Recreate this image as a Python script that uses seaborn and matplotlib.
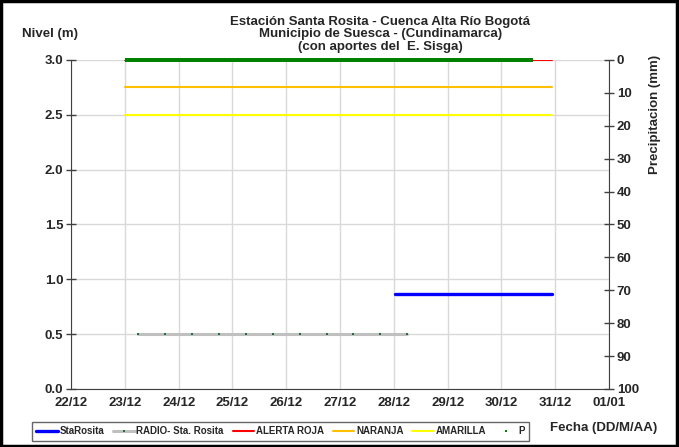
import matplotlib

matplotlib.use("Agg")
import matplotlib.dates as mdates
import matplotlib.pyplot as plt
import numpy as np
import pandas as pd
import seaborn as sns
from matplotlib.lines import Line2D
from matplotlib.patches import Rectangle

# --- data ---
alert_times = ["2011-12-23 00:00", "2011-12-30 22:30"]
alerta_roja = [3.0, 3.0]
naranja = [2.75, 2.75]
amarilla = [2.5, 2.5]

starosita_times = ["2011-12-28 00:30", "2011-12-30 22:30"]
starosita = [0.87, 0.87]

radio_times = [
    "2011-12-23 06:00", "2011-12-23 18:00", "2011-12-24 06:00", "2011-12-24 18:00",
    "2011-12-25 06:00", "2011-12-25 18:00", "2011-12-26 06:00", "2011-12-26 18:00",
    "2011-12-27 06:00", "2011-12-27 18:00", "2011-12-28 06:00",
]
radio = [0.5, 0.5, 0.5, 0.5, 0.5, 0.5, 0.5, 0.5, 0.5, 0.5, 0.5]

# hourly precipitation, all zero over the record
p_times = pd.date_range("2011-12-23 01:00", "2011-12-30 13:00", freq="h")
p_values = np.zeros(len(p_times))

day_ticks = pd.date_range("2011-12-22", "2012-01-01", freq="D")

sns.set_style("white")
plt.rcParams["font.family"] = ["Liberation Sans Narrow", "Liberation Sans", "DejaVu Sans"]
plt.rcParams["font.weight"] = "bold"

fig = plt.figure(figsize=(6.79, 4.47), dpi=100)
ax = fig.add_axes([0.1046, 0.1298, 0.7924, 0.736])

lines = pd.DataFrame({"t": pd.to_datetime(alert_times), "roja": alerta_roja,
                      "naranja": naranja, "amarilla": amarilla})
sns.lineplot(data=lines, x="t", y="roja", color="#ff0000", lw=1.5, ax=ax, zorder=3)
sns.lineplot(data=lines, x="t", y="naranja", color="#ffc000", lw=1.5, ax=ax, zorder=3)
sns.lineplot(data=lines, x="t", y="amarilla", color="#ffff00", lw=1.5, ax=ax, zorder=3)

sns.lineplot(x=pd.to_datetime(radio_times), y=radio, color="#c0c0c0", lw=2.2,
             marker="s", markersize=1.8, markerfacecolor="#1f6f3f",
             markeredgewidth=0, ax=ax, zorder=4)
sns.lineplot(x=pd.to_datetime(starosita_times), y=starosita, color="#0000ff",
             lw=2.4, ax=ax, zorder=4)

ax.set_xlim(day_ticks[0], day_ticks[-1])
ax.set_ylim(0, 3.0)
ax.set_xticks(day_ticks)
ax.xaxis.set_major_formatter(mdates.DateFormatter("%d/%m"))
ax.set_yticks(np.arange(0, 3.01, 0.5))
ax.yaxis.set_major_formatter(matplotlib.ticker.FormatStrFormatter("%.1f"))
ax.grid(True, color="#d9d9d9", lw=1)
ax.set_axisbelow(True)
ax.tick_params(direction="inout", length=7, width=1, color="#404040",
               labelsize=9.5, pad=2)
for lab in ax.get_xticklabels() + ax.get_yticklabels():
    lab.set_fontweight("bold")
ax.set_xlabel("")
ax.set_ylabel("")
for side in ["left", "bottom"]:
    ax.spines[side].set_color("#404040")
ax.spines["top"].set_visible(False)
ax.spines["right"].set_visible(False)

ax2 = ax.twinx()
sns.scatterplot(x=p_times, y=p_values, color="#008000", marker="s", s=5,
                linewidth=0, ax=ax2, zorder=5, clip_on=False)
ax2.set_ylim(100, 0)
ax2.set_yticks(np.arange(0, 101, 10))
ax2.tick_params(direction="inout", length=7, width=1, color="#404040",
                labelsize=9.5, pad=2)
for lab in ax2.get_yticklabels():
    lab.set_fontweight("bold")
ax2.set_ylabel("")
ax2.spines["right"].set_color("#404040")
for side in ["top", "left", "bottom"]:
    ax2.spines[side].set_visible(False)

fig.text(0.56, 0.965, "Estación Santa Rosita - Cuenca Alta Río Bogotá\n"
         "Municipio de Suesca - (Cundinamarca)\n(con aportes del  E. Sisga)",
         ha="center", va="top", fontsize=9.5, fontweight="bold", linespacing=1.05)
fig.text(0.032, 0.924, "Nivel (m)", ha="left", va="center", fontsize=9.5,
         fontweight="bold")
fig.text(0.965, 0.745, "Precipitacion (mm)", ha="center", va="center",
         rotation=90, fontsize=9.5, fontweight="bold")
fig.text(0.968, 0.042, "Fecha (DD/M/AA)", ha="right", va="center",
         fontsize=9.5, fontweight="bold")

handles = [
    Line2D([], [], color="#0000ff", lw=2.4),
    Line2D([], [], color="#c0c0c0", lw=2.2, marker="s", markersize=1.8,
           markerfacecolor="#1f6f3f", markeredgewidth=0),
    Line2D([], [], color="#ff0000", lw=1.5),
    Line2D([], [], color="#ffc000", lw=1.5),
    Line2D([], [], color="#ffff00", lw=1.5),
    Line2D([], [], color="#008000", lw=0, marker="s", markersize=2,
           markeredgewidth=0),
]
labels = ["StaRosita", "RADIO- Sta. Rosita", "ALERTA ROJA", "NARANJA", "AMARILLA", "P"]
leg = fig.legend(handles, labels, loc="lower left", bbox_to_anchor=(0.047, 0.014),
                 ncol=6, fontsize=7, handlelength=2.2, handletextpad=0.2,
                 columnspacing=0.9, frameon=True, fancybox=False,
                 borderpad=0.45, borderaxespad=0)
leg.get_frame().set_edgecolor("#404040")
leg.get_frame().set_linewidth(1)

fig.patches.append(Rectangle((0.002, 0.003), 0.995, 0.994, transform=fig.transFigure,
                             fill=False, edgecolor="black", lw=2.5))

fig.savefig("out.png", dpi=100)
